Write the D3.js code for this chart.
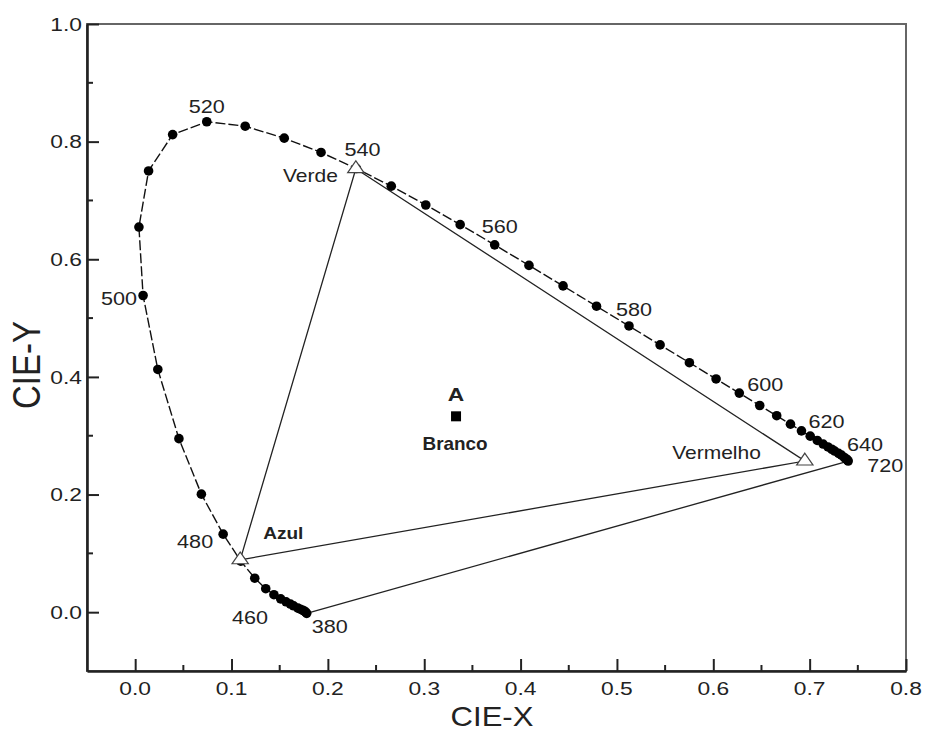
<!DOCTYPE html>
<html>
<head>
    <meta charset="utf-8" />
    <title>Diagrama de cromaticidade CIE</title>
    <script src="https://d3js.org/d3.v7.min.js" charset="utf-8"></script>
    <style>
        body { margin: 0; background: #fff; }
        text { font-family: "Liberation Sans", Arial, sans-serif; fill: #222; }
    </style>
</head>
<body>
    <script>
        // Spectral locus points (wavelength in nm, CIE x, CIE y)
        const locusNm = [380, 390, 400, 410, 420, 430, 440, 445, 450, 455, 460, 465, 470, 475, 480, 485, 490, 495,
                         500, 505, 510, 515, 520, 525, 530, 535, 540, 545, 550, 555, 560, 565, 570, 575, 580, 585,
                         590, 595, 600, 605, 610, 615, 620, 625, 630, 635, 640, 645, 650, 660, 670, 680, 690, 700, 720];
        const locusX = [0.178, 0.177, 0.1755, 0.174, 0.1714, 0.1689, 0.1644, 0.1611, 0.1566, 0.1510, 0.1440, 0.1355, 0.1241, 0.1096, 0.0913, 0.0687, 0.0454, 0.0235,
                        0.0082, 0.0039, 0.0139, 0.0389, 0.0743, 0.1142, 0.1547, 0.1929, 0.2296, 0.2658, 0.3016, 0.3373, 0.3731, 0.4087, 0.4441, 0.4788, 0.5125, 0.5448,
                        0.5752, 0.6029, 0.6270, 0.6482, 0.6658, 0.6801, 0.6915, 0.7006, 0.7079, 0.7140, 0.7190, 0.7230, 0.7260, 0.7300, 0.7330, 0.7360, 0.7380, 0.7390, 0.7400];
        const locusY = [-0.002, 0.000, 0.002, 0.003, 0.0051, 0.0069, 0.0109, 0.0138, 0.0177, 0.0227, 0.0297, 0.0399, 0.0578, 0.0868, 0.1327, 0.2007, 0.2950, 0.4127,
                        0.5384, 0.6548, 0.7502, 0.8120, 0.8338, 0.8262, 0.8059, 0.7816, 0.7543, 0.7243, 0.6923, 0.6589, 0.6245, 0.5896, 0.5547, 0.5202, 0.4866, 0.4544,
                        0.4242, 0.3965, 0.3725, 0.3514, 0.3340, 0.3197, 0.3083, 0.2993, 0.2920, 0.2859, 0.2809, 0.2770, 0.2740, 0.2700, 0.2670, 0.2630, 0.2605, 0.2590, 0.2570];

        // Wavelengths that carry a number label
        const labelledNm = [380, 460, 480, 500, 520, 540, 560, 580, 600, 620, 640, 720];

        // Primaries (open triangles)
        const primaryNames = ["Verde", "Vermelho", "Azul"];
        const primaryX = [0.229, 0.695, 0.109];
        const primaryY = [0.754, 0.257, 0.089];

        // White point
        const whiteX = 0.333;
        const whiteY = 0.333;

        // Axis ticks
        const xTicks = [0.0, 0.1, 0.2, 0.3, 0.4, 0.5, 0.6, 0.7, 0.8];
        const xMinor = [0.05, 0.15, 0.25, 0.35, 0.45, 0.55, 0.65, 0.75];
        const yTicks = [0.0, 0.2, 0.4, 0.6, 0.8, 1.0];
        const yMinor = [0.1, 0.3, 0.5, 0.7, 0.9];

        const width = 925, height = 731;
        const margin = { top: 24, right: 19, bottom: 60, left: 87 };

        const x = d3.scaleLinear().domain([-0.05, 0.8]).range([margin.left, width - margin.right]);
        const y = d3.scaleLinear().domain([-0.1, 1.0]).range([height - margin.bottom, margin.top]);

        const svg = d3.select("body").append("svg")
            .attr("width", width)
            .attr("height", height);

        // text helper: the source picture is stretched sideways, so widen the glyphs the same way
        function label(txt, px, py, opts) {
            opts = opts || {};
            const sx = opts.sx || 1.2;
            return svg.append("text")
                .attr("transform", `translate(${px},${py}) scale(${sx},1)`)
                .attr("text-anchor", opts.anchor || "middle")
                .attr("dominant-baseline", "central")
                .attr("font-size", opts.size || 18)
                .attr("font-weight", opts.weight || "normal")
                .text(txt);
        }

        // frame
        svg.append("rect")
            .attr("x", x(-0.05)).attr("y", y(1.0))
            .attr("width", x(0.8) - x(-0.05)).attr("height", y(-0.1) - y(1.0))
            .attr("fill", "none").attr("stroke", "#666").attr("stroke-width", 2);

        // left and bottom axes, ticks pointing inward
        const xAxis = svg.append("g")
            .attr("transform", `translate(0,${y(-0.1)})`)
            .call(d3.axisBottom(x).tickValues(xTicks).tickSizeInner(-12).tickSizeOuter(0).tickFormat(""));
        xAxis.append("g").selectAll("line").data(xMinor).enter().append("line")
            .attr("x1", d => x(d)).attr("x2", d => x(d)).attr("y1", 0).attr("y2", -6);

        const yAxis = svg.append("g")
            .attr("transform", `translate(${x(-0.05)},0)`)
            .call(d3.axisLeft(y).tickValues(yTicks).tickSizeInner(-12).tickSizeOuter(0).tickFormat(""));
        yAxis.append("g").selectAll("line").data(yMinor).enter().append("line")
            .attr("x1", 0).attr("x2", 6).attr("y1", d => y(d)).attr("y2", d => y(d));

        svg.selectAll(".domain").attr("stroke", "#222").attr("stroke-width", 2.6);
        xAxis.selectAll("line").attr("stroke", "#222").attr("stroke-width", 2);
        yAxis.selectAll("line").attr("stroke", "#222").attr("stroke-width", 2);

        // tick labels
        xTicks.forEach(t => label(t.toFixed(1), x(t), 688, { size: 19 }));
        yTicks.forEach(t => label(t.toFixed(1), 82, y(t), { size: 19, anchor: "end" }));

        // axis titles
        label("CIE-X", 492, 717, { size: 27, sx: 1.15 });
        svg.append("text")
            .attr("transform", "translate(27,365) rotate(-90) scale(1,1.15)")
            .attr("text-anchor", "middle")
            .attr("dominant-baseline", "central")
            .attr("font-size", 33)
            .text("CIE-Y");

        const locus = locusNm.map((nm, i) => ({ nm: nm, x: locusX[i], y: locusY[i] }));
        const primaries = primaryNames.map((n, i) => ({ name: n, x: primaryX[i], y: primaryY[i] }));

        // gamut triangle Verde - Vermelho - Azul
        svg.append("path")
            .attr("d", d3.line().x(d => x(d.x)).y(d => y(d.y)).curve(d3.curveLinearClosed)(primaries))
            .attr("fill", "none").attr("stroke", "#222").attr("stroke-width", 1.3);

        // line of purples, 380 to 720
        const first = locus[0], last = locus[locus.length - 1];
        svg.append("line")
            .attr("x1", x(first.x)).attr("y1", y(first.y))
            .attr("x2", x(last.x)).attr("y2", y(last.y))
            .attr("stroke", "#222").attr("stroke-width", 1.3);

        // spectral locus, dashed
        svg.append("path")
            .attr("d", d3.line().x(d => x(d.x)).y(d => y(d.y))(locus))
            .attr("fill", "none").attr("stroke", "#111").attr("stroke-width", 1.4)
            .attr("stroke-dasharray", "10,3");

        svg.selectAll(".dot").data(locus).enter().append("circle")
            .attr("class", "dot")
            .attr("cx", d => x(d.x)).attr("cy", d => y(d.y))
            .attr("r", 4.8).attr("fill", "#000");

        // primaries as open triangles
        const tri = d3.symbol().type(d3.symbolTriangle).size(80);
        svg.selectAll(".prim").data(primaries).enter().append("path")
            .attr("class", "prim")
            .attr("transform", d => `translate(${x(d.x)},${y(d.y)}) scale(1.2,1)`)
            .attr("d", tri)
            .attr("fill", "#fff").attr("stroke", "#444").attr("stroke-width", 1.1);

        // wavelength labels
        const nmOffset = {
            380: [5, 13, "start"], 460: [-24, 23, "middle"], 480: [-10, 8, "end"], 500: [-6, 3, "end"],
            520: [0, -15, "middle"], 540: [6, -19, "middle"], 560: [5, -18, "middle"], 580: [5, -16, "middle"],
            600: [8, -8, "start"], 620: [7, -9, "start"], 640: [19, -2, "start"], 720: [19, 5, "start"]
        };
        labelledNm.forEach(nm => {
            const p = locus.find(d => d.nm === nm);
            const o = nmOffset[nm];
            label(String(nm), x(p.x) + o[0], y(p.y) + o[1], { size: 18, anchor: o[2] });
        });

        // primary names
        label("Verde", x(primaryX[0]) - 18, y(primaryY[0]) + 7, { size: 17.5, anchor: "end" });
        label("Vermelho", x(primaryX[1]) - 44, y(primaryY[1]) - 8, { size: 17.5, anchor: "end" });
        label("Azul", x(primaryX[2]) + 23, y(primaryY[2]) - 26, { size: 17, weight: "bold", anchor: "start", sx: 1.12 });

        // white point
        svg.append("rect")
            .attr("x", x(whiteX) - 5).attr("y", y(whiteY) - 5)
            .attr("width", 10).attr("height", 10)
            .attr("fill", "#000");
        label("A", x(whiteX), y(whiteY) - 22, { size: 19, weight: "bold", sx: 1.2 });
        label("Branco", x(whiteX) - 1, y(whiteY) + 27, { size: 18, weight: "bold", sx: 1.05 });
    </script>
</body>
</html>
